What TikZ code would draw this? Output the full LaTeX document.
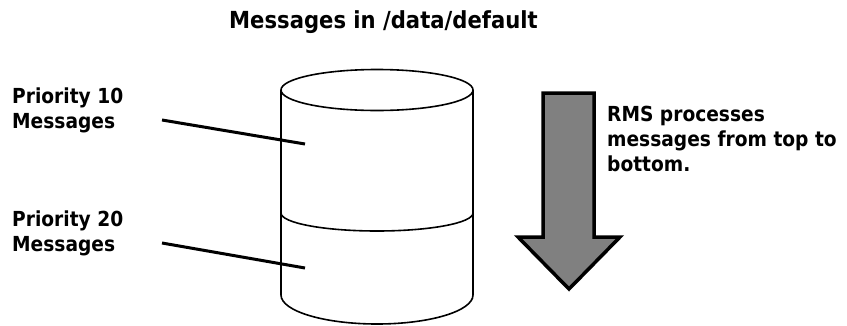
\documentclass[tikz,border=0pt]{standalone}
\usepackage{fontspec}
\newfontfamily\lblfont{DejaVu Sans}[FakeStretch=0.9]
\begin{document}
\begin{tikzpicture}[x=1pt,y=-1pt,
  lbl/.style={font=\lblfont\bfseries\fontsize{20.7}{24.8}\selectfont, inner sep=0pt, align=left, anchor=base west},
  ttl/.style={font=\lblfont\bfseries\fontsize{23.5}{28}\selectfont, inner sep=0pt, anchor=base west},
  cyl/.style={draw=black, line width=1.6pt},
  leader/.style={draw=black, line width=3pt},
  bigarrow/.style={draw=black, fill=black!50, line width=3.5pt, line join=miter}]
\useasboundingbox (0,0) rectangle (847,325);
% title
\node[ttl] (title) at (229,28) {Messages in /data/default};
% labels (anchored at the baseline of their last line)
\node[lbl] (p10) at (12,128) {Priority 10\\Messages};
\node[lbl] (p20) at (12,251) {Priority 20\\Messages};
\node[lbl] (rms) at (607,171) {RMS processes\\messages from top to\\bottom.};
% cylinder
\coordinate (ctop) at (377,90);
\coordinate (cmid) at (377,213);
\coordinate (cbot) at (377,295);
\fill[white] (281,90) -- (281,295) arc[start angle=180, end angle=0, x radius=96, y radius=29] -- (473,90) -- cycle;
\draw[cyl] (ctop) ellipse[x radius=96, y radius=20.5];
\draw[cyl] (281,90) -- (281,295) arc[start angle=180, end angle=0, x radius=96, y radius=29] -- (473,90);
\draw[cyl] (281,213) arc[start angle=180, end angle=0, x radius=96, y radius=18];
% leaders
\coordinate (l10a) at (162,120);
\coordinate (l10b) at (305,144);
\coordinate (l20a) at (162,243);
\coordinate (l20b) at (305,268);
\draw[leader] (l10a) -- (l10b);
\draw[leader] (l20a) -- (l20b);
% arrow
\draw[bigarrow] (543,93) -- (594,93) -- (594,237) -- (620,237) -- (569,289) -- (518,237) -- (543,237) -- cycle;
\end{tikzpicture}
\end{document}
